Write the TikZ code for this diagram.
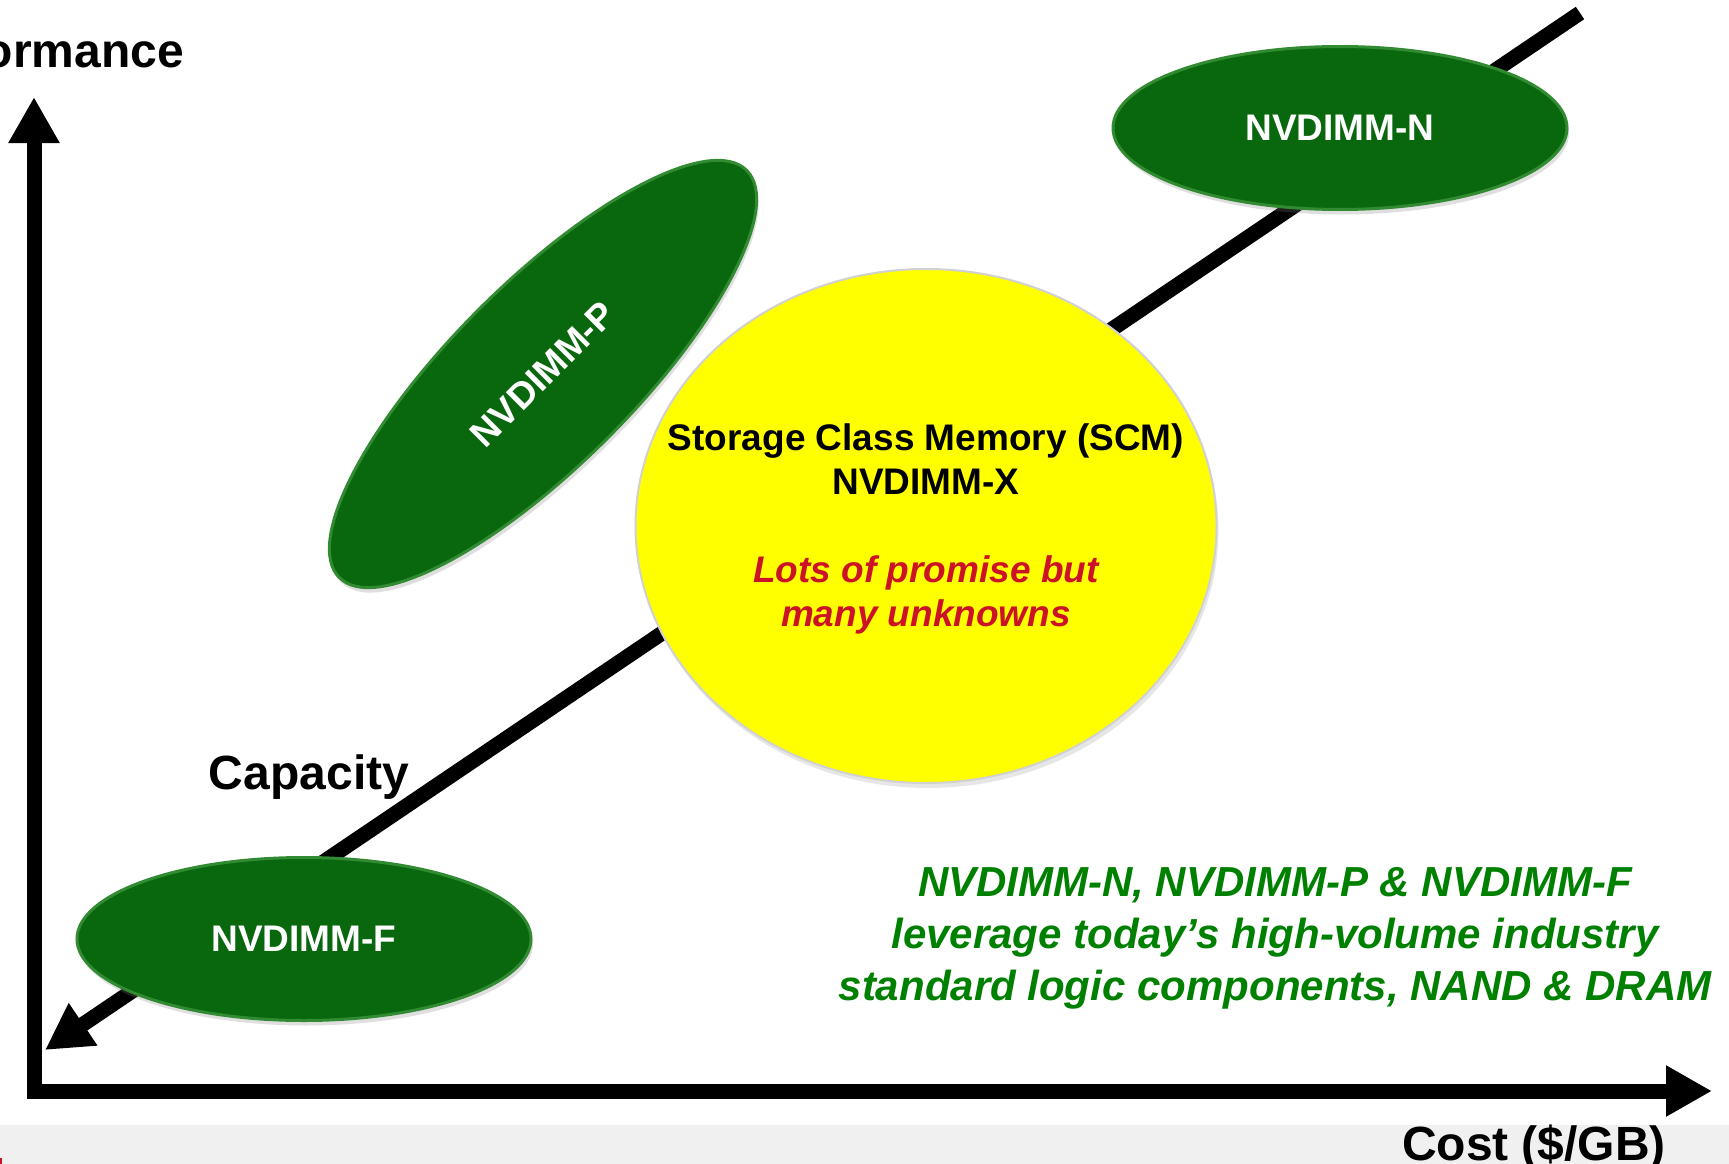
\documentclass[tikz,border=0pt]{standalone}
\usepackage{fontspec}
\setmainfont{Liberation Sans}
\usetikzlibrary{shapes.geometric,arrows.meta,shadows}
\definecolor{dimmgreen}{RGB}{9,104,14}
\definecolor{dimmrim}{RGB}{50,138,50}
\definecolor{scmyellow}{RGB}{255,255,0}
\definecolor{promisered}{RGB}{204,18,38}
\definecolor{notegreen}{RGB}{0,128,0}
\definecolor{footgray}{RGB}{240,240,240}
\begin{document}
\begin{tikzpicture}[x=1pt,y=-1pt,
  dimm/.style={ellipse,fill=dimmgreen,draw=dimmrim,line width=3pt,minimum width=454pt,minimum height=163pt,
    inner sep=0pt,text=white,font=\fontsize{37}{44}\selectfont\bfseries,
    drop shadow={opacity=.25,shadow xshift=2pt,shadow yshift=-5pt}},
  bigarrow/.style={line width=15pt,>={Triangle[length=46pt,width=48pt]}},
  axislabel/.style={font=\fontsize{48}{56}\selectfont\bfseries,inner sep=0pt}]
\useasboundingbox (0,0) rectangle (1729,1164);
\fill[footgray] (0,1125) rectangle (1729,1164);
\fill[promisered] (0,1158) rectangle (2,1164);
\coordinate (perf-tip) at (34,97);
\coordinate (cost-tip) at (1712,1091);
\coordinate (cap-tip) at (45,1050);
\coordinate (cap-end) at (1580,13);
\draw[bigarrow,<->,line join=miter] (perf-tip) |- (cost-tip);
\draw[bigarrow,->] (cap-end) -- (cap-tip);
\node[dimm] (nvdimm-n) at (1340,128) {NVDIMM-N};
\node[dimm] (nvdimm-f) at (304,939) {NVDIMM-F};
\node[dimm,rotate=45,minimum width=576pt,minimum height=182pt] (nvdimm-p) at (543,374) {NVDIMM-P};
\node[ellipse,fill=scmyellow,draw=black!18,line width=2pt,minimum width=581pt,minimum height=514pt,
  drop shadow={opacity=.2,shadow xshift=2pt,shadow yshift=-5pt}] (scm) at (926,526) {};
\node[align=center,font=\fontsize{37}{44}\selectfont\bfseries] (scm-text) at (926,529)
  {Storage Class Memory (SCM)\\NVDIMM-X\\[44pt]
   \textcolor{promisered}{\itshape Lots of promise but}\\
   \textcolor{promisered}{\itshape many unknowns}};
\node[align=center,text=notegreen,font=\fontsize{42}{52}\selectfont\bfseries\itshape] (note) at (1275,938)
  {NVDIMM-N, NVDIMM-P \& NVDIMM-F\\leverage today’s high-volume industry\\standard logic components, NAND \& DRAM};
\node[axislabel,anchor=base east] (performance) at (184,67) {Performance};
\node[axislabel,anchor=base] (capacity) at (309,789) {Capacity};
\node[axislabel,anchor=base] (cost) at (1534,1160) {Cost (\$/GB)};
\end{tikzpicture}
\end{document}
